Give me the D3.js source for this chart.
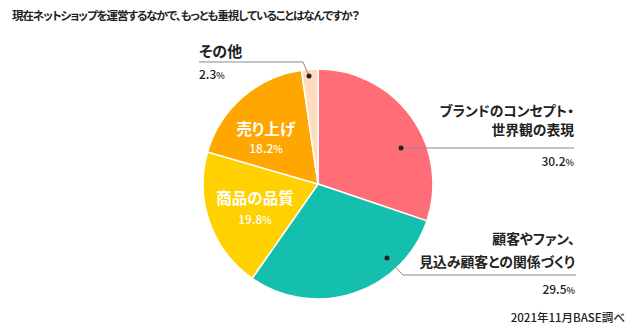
<!DOCTYPE html>
<html><head><meta charset="utf-8">
<script src="https://cdn.jsdelivr.net/npm/d3@7/dist/d3.min.js"></script>
<style>
html,body{margin:0;padding:0;background:#fff;}
svg{display:block;font-family:"Noto Sans CJK JP","Noto Sans",sans-serif;font-feature-settings:"palt";}
</style></head><body>
<svg id="c" width="640" height="336"></svg>
<script>
const title = "現在ネットショップを運営するなかで、もっとも重視していることはなんですか？";
const categories = ["ブランドのコンセプト・世界観の表現", "顧客やファン、見込み顧客との関係づくり", "商品の品質", "売り上げ", "その他"];
const labelLines = [["ブランドのコンセプト・", "世界観の表現"], ["顧客やファン、", "見込み顧客との関係づくり"], ["商品の品質"], ["売り上げ"], ["その他"]];
const values = [30.2, 29.5, 19.8, 18.2, 2.3];
const colors = ["#FF6E77", "#14BFAD", "#FFD100", "#FFA700", "#FFDCC0"];
const source = "2021年11月BASE調べ";

const svg = d3.select("#c");
const cx = 318, cy = 184, R = 115;

svg.append("text").attr("x", 12).attr("y", 20)
  .attr("font-size", 11.5).attr("font-weight", 700).attr("letter-spacing", -1.05).attr("fill", "#222").text(title);

const pie = d3.pie().sort(null).value(d => d)(values);
const arc = d3.arc().innerRadius(0).outerRadius(R);
const g = svg.append("g").attr("transform", `translate(${cx},${cy})`);
g.selectAll("path").data(pie).join("path")
  .attr("d", arc).attr("fill", (d, i) => colors[i])
  .attr("stroke", "#fff").attr("stroke-width", 1.5).attr("stroke-linejoin", "round");

const fmt = d3.format(".1f");
function pct(sel, v, psize) {
  sel.append("tspan").text(fmt(v));
  sel.append("tspan").attr("font-size", psize).text("%");
}

// Inner labels (white)
const inner = [
  {i: 3, x: 266, y1: 135, y2: 153},
  {i: 2, x: 255, y1: 204, y2: 224}
];
inner.forEach(o => {
  svg.append("text").attr("x", o.x).attr("y", o.y1).attr("text-anchor", "middle")
    .attr("font-size", 15.5).attr("font-weight", 700).attr("fill", "#fff").text(labelLines[o.i][0]);
  const t = svg.append("text").attr("x", o.x).attr("y", o.y2).attr("text-anchor", "middle")
    .attr("font-size", 12).attr("font-weight", 500).attr("fill", "#fff");
  pct(t, values[o.i], 10);
});

const lineCol = "#8a8a8a", txt = "#222";
// その他
svg.append("text").attr("x", 199).attr("y", 57).attr("font-size", 15).attr("font-weight", 700).attr("fill", txt).text(labelLines[4][0]);
svg.append("path").attr("d", "M199,62H303L309,76").attr("fill", "none").attr("stroke", lineCol).attr("stroke-width", 1);
svg.append("circle").attr("cx", 309).attr("cy", 76).attr("r", 2.5).attr("fill", txt);
{ const t = svg.append("text").attr("x", 199).attr("y", 79).attr("font-size", 12).attr("font-weight", 500).attr("fill", txt); pct(t, values[4], 9); }

// Brand
svg.append("text").attr("x", 574).attr("y", 116).attr("text-anchor", "end").attr("font-size", 13.8).attr("font-weight", 700).attr("fill", txt).text(labelLines[0][0]);
svg.append("text").attr("x", 574).attr("y", 135).attr("text-anchor", "end").attr("font-size", 13.8).attr("font-weight", 700).attr("fill", txt).text(labelLines[0][1]);
svg.append("path").attr("d", "M401,148H574").attr("fill", "none").attr("stroke", lineCol).attr("stroke-width", 1);
svg.append("circle").attr("cx", 401).attr("cy", 148).attr("r", 2.5).attr("fill", txt);
{ const t = svg.append("text").attr("x", 574).attr("y", 166).attr("text-anchor", "end").attr("font-size", 12).attr("font-weight", 500).attr("fill", txt); pct(t, values[0], 9); }

// Customers
svg.append("text").attr("x", 575).attr("y", 244).attr("text-anchor", "end").attr("font-size", 13.8).attr("font-weight", 700).attr("fill", txt).text(labelLines[1][0]);
svg.append("text").attr("x", 575).attr("y", 267).attr("text-anchor", "end").attr("font-size", 13.8).attr("font-weight", 700).attr("fill", txt).text(labelLines[1][1]);
svg.append("path").attr("d", "M387,258L403,275H576").attr("fill", "none").attr("stroke", lineCol).attr("stroke-width", 1);
svg.append("circle").attr("cx", 387).attr("cy", 258).attr("r", 2.5).attr("fill", txt);
{ const t = svg.append("text").attr("x", 575).attr("y", 294).attr("text-anchor", "end").attr("font-size", 12).attr("font-weight", 500).attr("fill", txt); pct(t, values[1], 9); }

svg.append("text").attr("x", 625).attr("y", 322).attr("text-anchor", "end").attr("font-size", 11.5).attr("font-weight", 500).attr("fill", txt).text(source);
</script>
</body></html>
